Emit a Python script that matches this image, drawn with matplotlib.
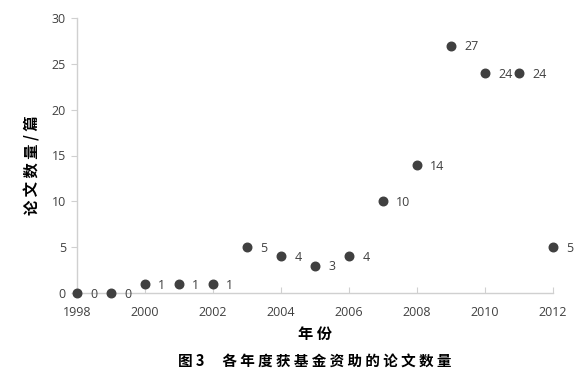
import matplotlib
matplotlib.use("Agg")
import matplotlib.pyplot as plt

years = [1998, 1999, 2000, 2001, 2002, 2003, 2004, 2005, 2006, 2007, 2008, 2009, 2010, 2011, 2012]
counts = [0, 0, 1, 1, 1, 5, 4, 3, 4, 10, 14, 27, 24, 24, 5]
xticks = [1998, 2000, 2002, 2004, 2006, 2008, 2010, 2012]
yticks = [0, 5, 10, 15, 20, 25, 30]

plt.rcParams['font.family'] = ['Open Sans', 'Noto Sans CJK SC', 'DejaVu Sans']

fig = plt.figure(figsize=(5.85, 3.8), dpi=100)
ax = fig.add_axes([77/585, 1-293/380, (553-77)/585, (293-18)/380])

ax.scatter(years, counts, s=38, color='#404040', zorder=3, clip_on=False)
for x, y in zip(years, counts):
    ax.annotate(str(y), (x, y), xytext=(9.5, -1), textcoords='offset points',
                ha='left', va='center', fontsize=9, color='#404040')

ax.set_xlim(1998, 2012)
ax.set_ylim(0, 30)
ax.set_xticks(xticks)
ax.set_yticks(yticks)
for s in ['top', 'right']:
    ax.spines[s].set_visible(False)
for s in ['left', 'bottom']:
    ax.spines[s].set_color('#d0d0d0')
    ax.spines[s].set_linewidth(1.0)
ax.tick_params(axis='x', direction='in', length=4, color='#d0d0d0', labelsize=9,
               labelcolor='#404040', pad=9)
ax.tick_params(axis='y', direction='out', length=4, color='#d0d0d0', labelsize=9,
               labelcolor='#404040', pad=4)

cjk = ['Noto Sans CJK SC', 'DejaVu Sans']
fig.text(32/585, 1-165/380, '论 文 数 量 / 篇', rotation=90, ha='center', va='center',
         fontsize=11, fontweight='bold', family=cjk)
fig.text(315/585, 1-334/380, '年 份', ha='center', va='center',
         fontsize=11, fontweight='bold', family=cjk)
fig.text(315/585, 1-361/380, '图 3\u3000 各 年 度 获 基 金 资 助 的 论 文 数 量', ha='center', va='center',
         fontsize=10.5, fontweight='bold', family=cjk)

fig.savefig('out.png', dpi=100)
